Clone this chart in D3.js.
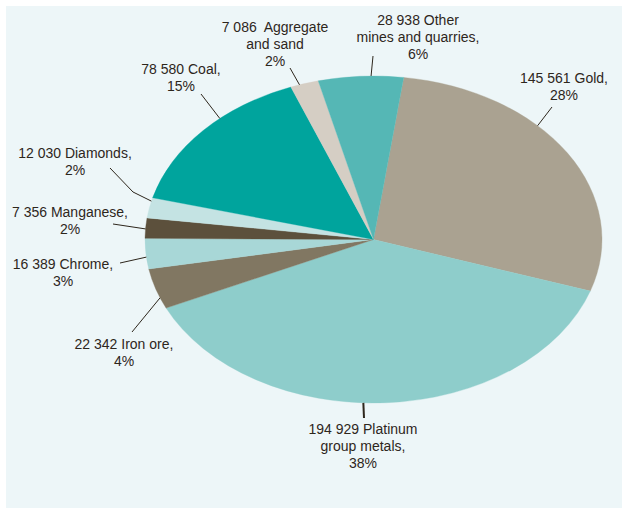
<!DOCTYPE html>
<html>
<head>
<meta charset="utf-8">
<script src="https://cdn.jsdelivr.net/npm/d3@7"></script>
<style>
  html, body { margin: 0; padding: 0; background: #ffffff; }
  svg { display: block; }
  text { font-family: "Liberation Sans", Arial, Helvetica, sans-serif; font-size: 14px; fill: #2d261c; white-space: pre; }
</style>
</head>
<body>
<svg id="chart" width="622" height="508"></svg>
<script>
// Mining output by commodity (clockwise from the top)
const categories = ["Gold", "Platinum group metals", "Iron ore", "Chrome", "Manganese",
                    "Diamonds", "Coal", "Aggregate and sand", "Other mines and quarries"];
const values = [145561, 194929, 22342, 16389, 7356, 12030, 78580, 7086, 28938];
// Share of the total, in per cent (slices are sized from these)
const shares = [28, 38, 4, 3, 2, 2, 15, 2, 6];
// How each category name is broken across label lines
const nameLines = [
  ["Gold,"], ["Platinum", "group metals,"], ["Iron ore,"], ["Chrome,"], ["Manganese,"],
  ["Diamonds,"], ["Coal,"], [" Aggregate", "and sand"], ["Other", "mines and quarries,"]
];
const colors = ["#aaa291", "#8ecdcb", "#817762", "#a8d7d7", "#5c503c",
                "#c4e3e3", "#00a49d", "#d5cec4", "#55b7b5"];

// Layout
const W = 622, H = 508;
const cx = 373.5, cy = 239.5, rx = 228.5, ry = 163.5;
const startDeg = 7.6;
// label anchor (centre x, first baseline y), leader bend points, and where on the slice the leader lands
const labelPos = [[564, 83], [363, 434], [124, 349], [63, 269], [70, 217], [75, 158], [181, 74], [275, 32], [418, 25]];
const leaderPts = [[[552, 107]], [[364, 418]], [[132, 332]], [[120, 263]], [[113, 224]],
                   [[110, 168], [133, 192]], [[201, 94]], [[290, 68]], [[373, 56]]];
const leaderFrac = [0.38, 0.542, 0.27, 0.39, 0.46, 0.83, 0.61, 0.32, 0.62];
const leaderWidth = [1, 2, 1, 1, 1, 1, 1, 1, 1];
const lineH = 17;

const svg = d3.select("#chart");
svg.append("rect").attr("x", 6).attr("y", 6).attr("width", W - 6).attr("height", H - 6).attr("fill", "#edf6f8");

const a0 = startDeg * Math.PI / 180;
const pie = d3.pie().sort(null).value(d => d).startAngle(a0).endAngle(a0 + 2 * Math.PI);
const arcs = pie(shares);
const arc = d3.arc().innerRadius(0).outerRadius(rx);

const g = svg.append("g").attr("transform", `translate(${cx},${cy}) scale(1,${ry / rx})`);
g.selectAll("path").data(arcs).join("path")
  .attr("d", arc)
  .attr("fill", (d, i) => colors[i])
  .attr("stroke", (d, i) => colors[i])
  .attr("stroke-width", 0.4);

// point on the ellipse rim at pie angle t
const rim = t => [cx + rx * Math.sin(t), cy - ry * Math.cos(t)];

const line = d3.line();
svg.append("g").selectAll("path").data(arcs).join("path")
  .attr("d", (d, i) => {
    const t = d.startAngle + leaderFrac[i] * (d.endAngle - d.startAngle);
    return line(leaderPts[i].concat([rim(t)]));
  })
  .attr("fill", "none")
  .attr("stroke", "#2d261c")
  .attr("stroke-width", (d, i) => leaderWidth[i]);

const fmt = d3.formatLocale({ decimal: ".", thousands: " ", grouping: [3], currency: ["", ""] }).format(",d");

const labels = svg.append("g").selectAll("text").data(categories).join("text")
  .attr("text-anchor", "middle")
  .attr("x", (d, i) => labelPos[i][0])
  .attr("y", (d, i) => labelPos[i][1]);
labels.each(function (d, i) {
  const lines = nameLines[i].slice();
  lines[0] = fmt(values[i]) + " " + lines[0];
  lines.push(shares[i] + "%");
  d3.select(this).selectAll("tspan").data(lines).join("tspan")
    .attr("x", labelPos[i][0])
    .attr("dy", (s, k) => k === 0 ? 0 : lineH)
    .text(s => s);
});
</script>
</body>
</html>
